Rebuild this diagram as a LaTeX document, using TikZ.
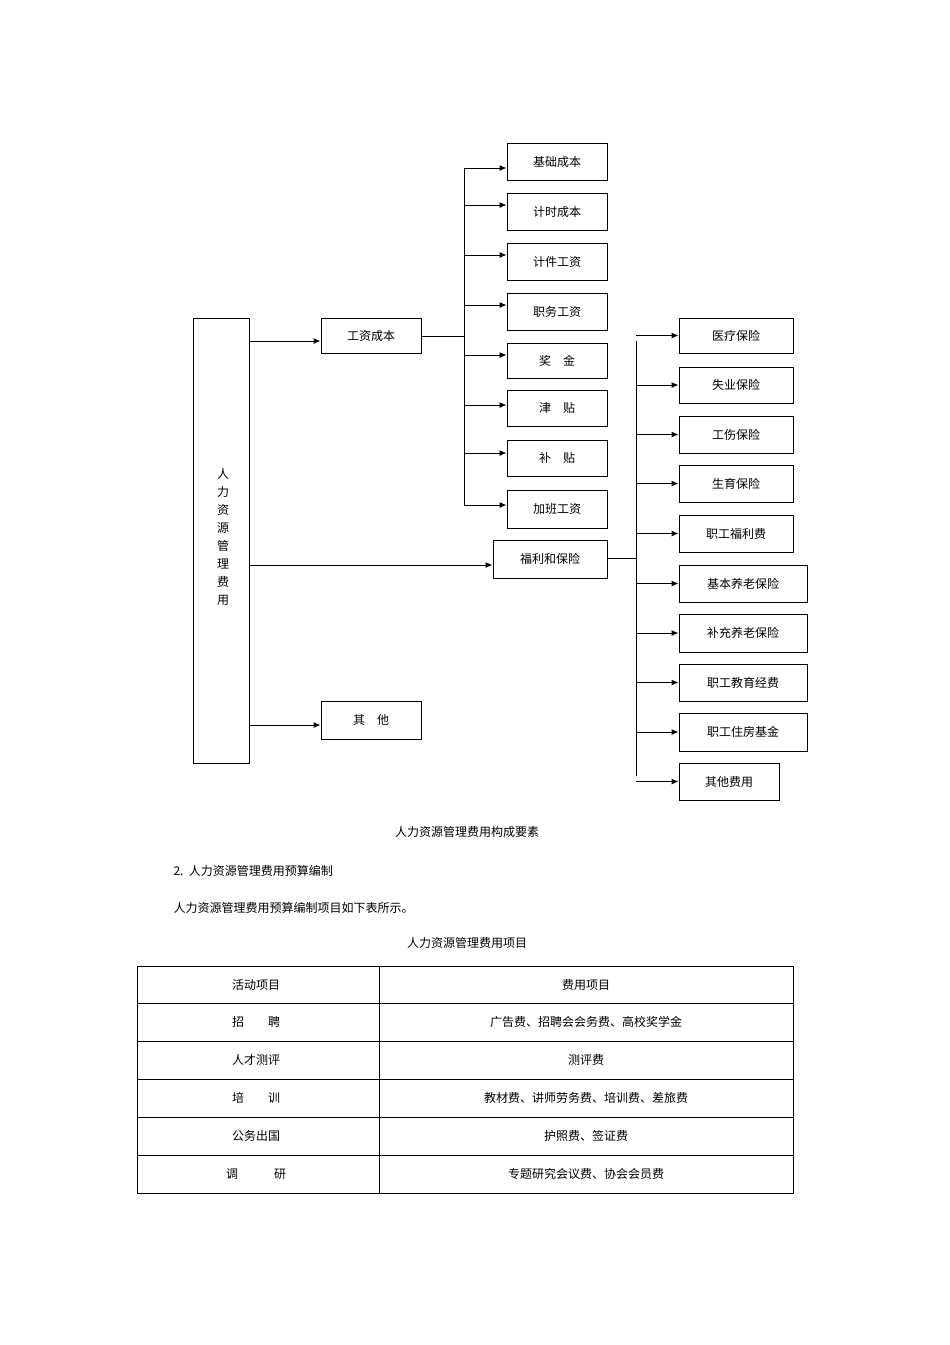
\documentclass[tikz,border=0pt]{standalone}
\usepackage{fontspec}
\setmainfont{Liberation Sans}
\newfontfamily\cjk{Noto Sans CJK SC}
\usetikzlibrary{arrows.meta}
\begin{document}
\begin{tikzpicture}[x=1pt,y=-1pt,
  every node/.style={font=\cjk\fontsize{12}{14}\selectfont},
  bx/.style={draw,line width=1pt,inner sep=0pt},
  arr/.style={line width=1pt,-{Latex[length=7pt,width=6pt]}},
  ln/.style={line width=1pt}]
\useasboundingbox (0,0) rectangle (950,1345);
\def\bxr#1#2#3#4#5#6{\node[bx,minimum width=#3-#2,minimum height=#5-#4] (#1) at ({(#2+#3)/2},{(#4+#5)/2}) {#6};}
\node[bx,minimum width=56,minimum height=445] (main) at (221,540.5) {};
\node[align=center,font=\cjk\fontsize{12}{18}\selectfont] (mt) at (223,537) {人\\力\\资\\源\\管\\理\\费\\用};
\bxr{gz}{321}{421}{318}{353}{工资成本}
\bxr{fl}{493}{607}{540}{578}{福利和保险}
\bxr{qt}{321}{421}{701}{739}{其\quad 他}
\draw[arr] (249,341) coordinate (m1) -- (gz.west |- m1);
\draw[arr] (249,565) coordinate (m2) -- (fl.west |- m2);
\draw[arr] (249,725) coordinate (m3) -- (qt.west |- m3);
% left branch
\coordinate (t1) at (464,336);
\draw[ln] (gz.east |- t1) -- (t1);
\draw[ln] (464,168) -- (464,505);
\foreach \n/\a/\b/\t/\y in {a1/143/180/基础成本/168,a2/193/230/计时成本/205,a3/243/280/计件工资/255,a4/293/330/职务工资/305,a5/343/378/奖\quad 金/355,a6/390/426/津\quad 贴/405,a7/440/476/补\quad 贴/453,a8/490/528/加班工资/505}{
  \bxr{\n}{507}{607}{\a}{\b}{\t}
  \draw[arr] (464,\y) coordinate (c\n) -- (\n.west |- c\n);
}
% right branch
\coordinate (t2) at (636,558);
\draw[ln] (fl.east |- t2) -- (t2);
\draw[ln] (636,341) -- (636,776);
\foreach \n/\r/\a/\b/\t in {b1/793/318/353/医疗保险,b2/793/367/403/失业保险,b3/793/416/453/工伤保险,b4/793/465/502/生育保险,b5/793/515/552/职工福利费,b6/807/565/602/基本养老保险,b7/807/614/652/补充养老保险,b8/807/664/701/职工教育经费,b9/807/713/751/职工住房基金,b10/779/763/800/其他费用}{
  \bxr{\n}{679}{\r}{\a}{\b}{\t}
  \draw[arr] (636,{(\a+\b)/2}) coordinate (c\n) -- (\n.west |- c\n);
}
\node (cap) at (467,832) {人力资源管理费用构成要素};
\node[anchor=west] (h2) at (170,871) {2.\ \ 人力资源管理费用预算编制};
\node[anchor=west] (p1) at (170,908) {人力资源管理费用预算编制项目如下表所示。};
\node (tt) at (467,943) {人力资源管理费用项目};
% table
\draw[line width=0.8pt] (137,966) rectangle (793,1193);
\draw[line width=0.8pt] (379,966) -- (379,1193);
\foreach \y in {1003,1041,1079,1117,1155} \draw[line width=0.8pt] (137,\y) -- (793,\y);
\foreach \y/\l/\r [count=\i] in {984.5/活动项目/费用项目,1022/招\qquad 聘/广告费、招聘会会务费、高校奖学金,1060/人才测评/测评费,1098/培\qquad 训/教材费、讲师劳务费、培训费、差旅费,1136/公务出国/护照费、签证费,1174/调\qquad\quad 研/专题研究会议费、协会会员费}{
  \node (l\i) at (256,\y) {\l};
  \node (r\i) at (586,\y) {\r};
}
\end{tikzpicture}
\end{document}
